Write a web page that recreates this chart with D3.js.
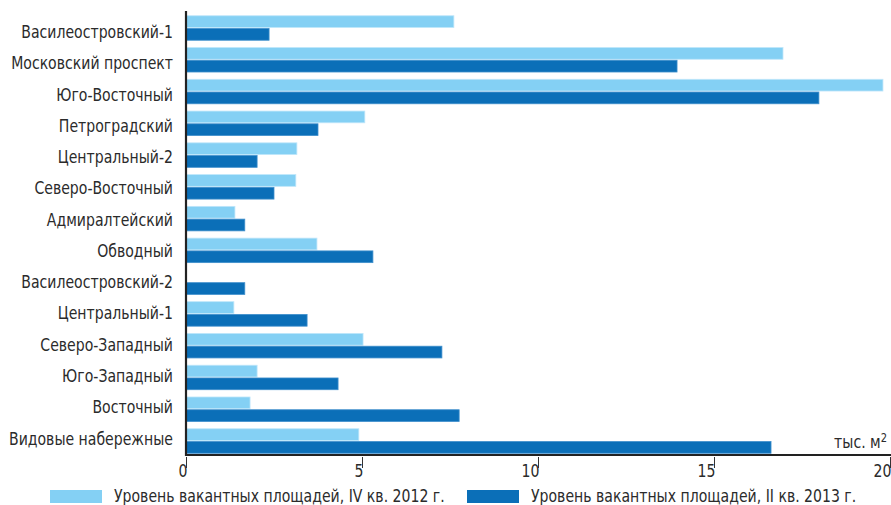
<!DOCTYPE html>
<html><head><meta charset="utf-8">
<script src="https://cdn.jsdelivr.net/npm/d3@7"></script>
<style>
html,body{margin:0;padding:0;background:#fff;}
svg{display:block;font-family:"Liberation Sans Narrow","DejaVu Sans Condensed",sans-serif;}
</style></head>
<body><svg id="c" width="891" height="505"></svg>
<script>
const categories = ["Василеостровский-1","Московский проспект","Юго-Восточный","Петроградский","Центральный-2","Северо-Восточный","Адмиралтейский","Обводный","Василеостровский-2","Центральный-1","Северо-Западный","Юго-Западный","Восточный","Видовые набережные"];
const series2012 = [7.61, 16.96, 19.8, 5.08, 3.15, 3.12, 1.39, 3.72, 0, 1.36, 5.03, 2.02, 1.82, 4.91];
const series2013 = [2.36, 13.95, 17.98, 3.75, 2.02, 2.5, 1.67, 5.31, 1.67, 3.44, 7.27, 4.32, 7.76, 16.62];
const seriesNames = ["Уровень вакантных площадей, IV кв. 2012 г.", "Уровень вакантных площадей, II кв. 2013 г."];
const xTicks = [0, 5, 10, 15, 20];
const unitLabel = "тыс. м";

const colors = ["#84d0f4", "#0b6fb8"];
const strokes = ["#bfe6fa", "#3f8fcc"];
const textColor = "#2b2b2b";
const squeeze = 0.92;
const svg = d3.select("#c");

const x = d3.scaleLinear().domain([0, 20]).range([186, 890]);
const y = d3.scaleBand().domain(categories).range([12, 457]).paddingInner(0.229).paddingOuter(0.118);
const ySub = d3.scaleBand().domain([0, 1]).range([0, y.bandwidth()]).paddingInner(0.08);
const yLabel = d3.scalePoint().domain(categories).range([32, 438.5]);

function sText(parent, tx, ty, anchor, txt) {
  return parent.append("text")
    .attr("transform", `translate(${tx},${ty}) scale(${squeeze},1)`)
    .attr("text-anchor", anchor)
    .attr("font-size", 17)
    .attr("fill", textColor)
    .text(txt);
}

const rows = categories.map((c, i) => ({c, v: [series2012[i], series2013[i]]}));
const g = svg.append("g");
rows.forEach(r => {
  r.v.forEach((v, k) => {
    if (v <= 0) return;
    g.append("rect")
      .attr("x", x(0))
      .attr("y", y(r.c) + ySub(k))
      .attr("width", x(v) - x(0))
      .attr("height", ySub.bandwidth())
      .attr("fill", colors[k])
      .attr("stroke", strokes[k])
      .attr("stroke-width", 0.8);
  });
});

// category labels
const lg = svg.append("g");
categories.forEach(c => {
  sText(lg, 173, yLabel(c) + 6, "end", c);
});

// axes lines
svg.append("line").attr("x1", 186).attr("x2", 186).attr("y1", 11).attr("y2", 456)
  .attr("stroke", "#222").attr("stroke-width", 2.2);
const xAxis = d3.axisBottom(x).tickValues(xTicks).tickSize(0).tickFormat(d3.format("d"));
const ax = svg.append("g").attr("transform", "translate(0,455)").call(xAxis);
ax.select(".domain").remove();
svg.append("line").attr("x1", 185).attr("x2", 891).attr("y1", 455).attr("y2", 455)
  .attr("stroke", "#222").attr("stroke-width", 2.2);
ax.selectAll(".tick line").remove();
ax.selectAll(".tick").append("line").attr("x1", 0).attr("x2", 0).attr("y1", 2).attr("y2", 13)
  .attr("stroke", "#333").attr("stroke-width", 1);
ax.selectAll(".tick text")
  .attr("y", 22).attr("dy", 0).attr("x", 1)
  .attr("text-anchor", "end")
  .attr("font-size", 17)
  .attr("transform", `scale(${squeeze},1)`)
  .attr("font-family", "\"Liberation Sans Narrow\",\"DejaVu Sans Condensed\",sans-serif")
  .attr("fill", textColor);

// unit label
const ut = svg.append("text").attr("transform", `translate(887,448) scale(${squeeze},1)`).attr("text-anchor", "end")
  .attr("font-size", 17).attr("fill", textColor);
ut.append("tspan").text(unitLabel);
ut.append("tspan").attr("dy", -6).attr("font-size", 12).text("2");

// legend
const legX = [50, 467];
seriesNames.forEach((n, k) => {
  svg.append("rect").attr("x", legX[k]).attr("y", 490).attr("width", 52).attr("height", 13)
    .attr("fill", colors[k]);
  sText(svg, legX[k] + 64, 502, "start", n);
});
</script></body></html>
